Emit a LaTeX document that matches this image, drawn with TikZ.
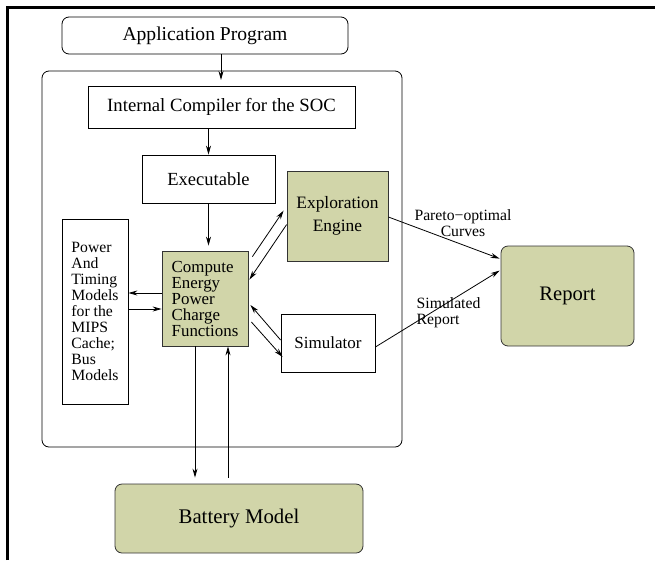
\documentclass[tikz,border=0pt]{standalone}
\usepackage{fontspec}
\setmainfont{Liberation Serif}
\usepackage{tikz}
\usetikzlibrary{arrows.meta}
\definecolor{khaki}{RGB}{209,213,169}

\begin{document}
\begin{tikzpicture}[x=1pt,y=-1pt,line width=0.8pt,>={Stealth[length=9pt,width=5pt]},
        box/.style={draw,inner sep=0pt,align=center},
        fillbox/.style={box,fill=khaki,draw=black!80},
        roundbox/.style={box,rounded corners=7pt}]
        \useasboundingbox (0,0) rectangle (655,560);
        \draw[line width=2.5pt] (7.5,560)--(7.5,7.5)--(655,7.5);

        \node[roundbox,minimum width=286pt,minimum height=37pt,font=\fontsize{19.6}{22}\selectfont] (app) at (205,35.5) {Application Program};
        \node[roundbox,minimum width=360pt,minimum height=376pt] (soc) at (222,259) {};
        \node[box,minimum width=267pt,minimum height=42pt,font=\fontsize{18.7}{22}\selectfont] (compiler) at (221.5,107) {Internal Compiler for the SOC};
        \node[box,minimum width=133pt,minimum height=48pt,font=\fontsize{18.5}{22}\selectfont] (exe) at (208.5,179) {Executable};
        \node[fillbox,minimum width=101pt,minimum height=90pt,font=\fontsize{17.4}{23}\selectfont] (explore) at (337.5,216) {Exploration\\Engine};
        \node[box,minimum width=66pt,minimum height=185pt,align=left,font=\fontsize{15.7}{15.9}\selectfont] (models) at (95,311.5) {Power\\And\\Timing\\Models\\for the\\MIPS\\Cache;\\Bus\\Models};
        \node[fillbox,minimum width=86pt,minimum height=95pt,align=left,font=\fontsize{16.9}{16}\selectfont] (energy) at (205,298.5) {Compute\\Energy\\Power\\Charge\\Functions};
        \node[box,minimum width=94pt,minimum height=58pt,font=\fontsize{17}{20}\selectfont] (sim) at (328,343) {Simulator};
        \node[fillbox,rounded corners=7pt,minimum width=133pt,minimum height=100pt,font=\fontsize{20.6}{24}\selectfont] (report) at (567.5,296) {Report};
        \node[fillbox,rounded corners=7pt,minimum width=248pt,minimum height=69pt,font=\fontsize{20.8}{24}\selectfont] (battery) at (239,518.5) {Battery Model};

        \coordinate (socin) at (221,80);
        \draw[->] (app.south -| socin)--(socin);
        \draw[->] (compiler.south -| exe.north)--(exe.north);
        \draw[->,shorten >=5pt] (exe.south)--(exe.south |- energy.north);
        \draw[->] ([shift={(4,6)}]energy.north east)--([shift={(-3,40)}]explore.north west);
        \draw[->] ([shift={(0,54)}]explore.north west)--([shift={(1,29)}]energy.north east);
        \draw[->] (energy.west |- 0,293)--(models.east |- 0,293);
        \draw[->] (models.east |- 0,309)--(energy.west |- 0,309);
        \draw[->] ([shift={(0,-3)}]sim.west)--([shift={(2,6.5)}]energy.east);
        \draw[->] ([shift={(3,23.5)}]energy.east)--([shift={(2,14)}]sim.west);
        \draw[->,shorten >=6pt] (energy.south -| 195,0)--(battery.north -| 195,0);
        \draw[->,shorten <=6pt] (battery.north -| 228,0)--(energy.south -| 228,0);

        % outputs to the report
        \draw[->] ([shift={(0,1)}]explore.east)--([shift={(-1,13)}]report.north west);
        \node[font=\fontsize{15.7}{16}\selectfont,align=center] (pareto) at (463,223) {Pareto−optimal\\Curves};
        \draw[->] ([shift={(0,4)}]sim.east)--([shift={(-1,25)}]report.north west);
        \node[font=\fontsize{15.7}{16}\selectfont,align=left,anchor=west] (simrep) at (413,313) {Simulated\\Report};
\end{tikzpicture}
\end{document}
